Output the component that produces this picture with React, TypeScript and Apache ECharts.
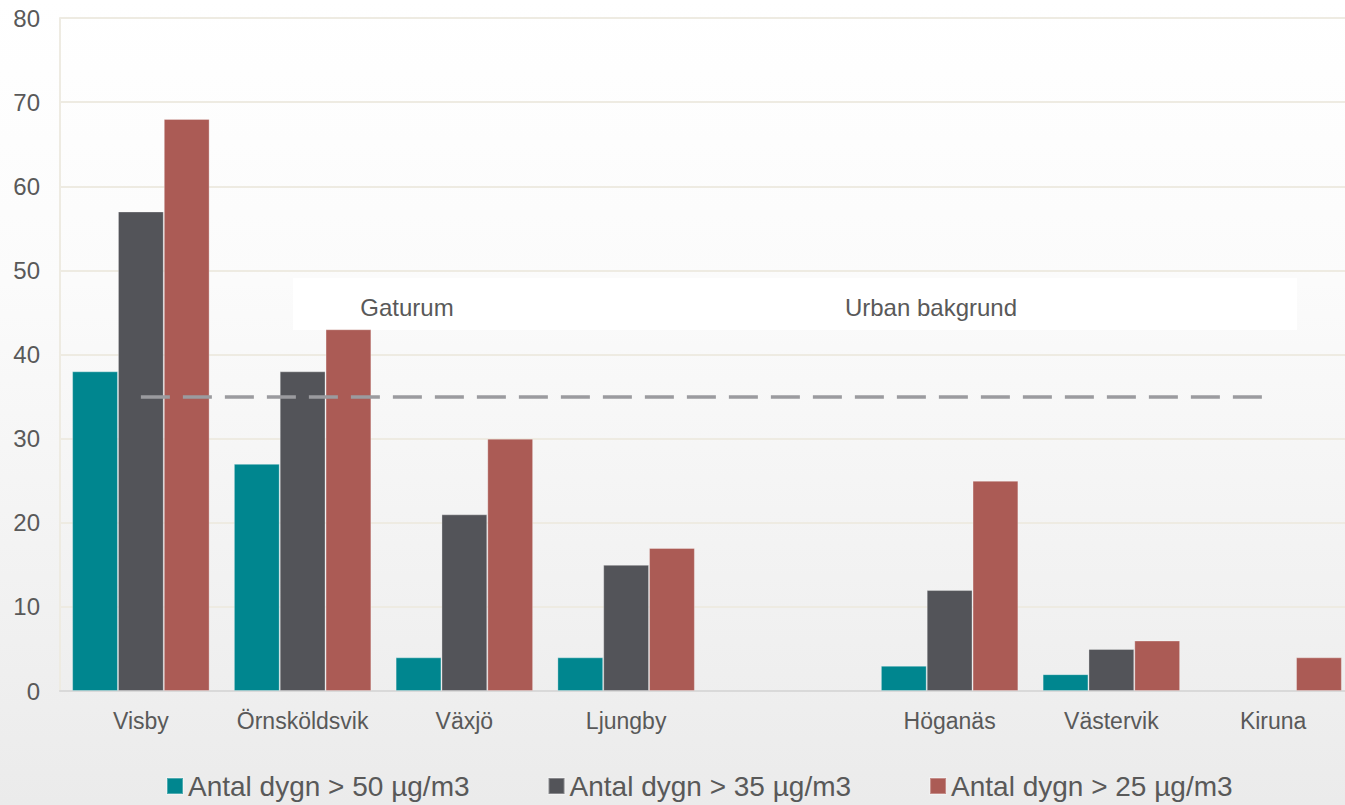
import React, { useEffect, useRef } from "react";
import * as echarts from "echarts";

const categories = ["Visby", "Örnsköldsvik", "Växjö", "Ljungby", "", "Höganäs", "Västervik", "Kiruna"];
const seriesNames = ["Antal dygn > 50 µg/m3", "Antal dygn > 35 µg/m3", "Antal dygn > 25 µg/m3"];
const over50 = [38, 27, 4, 4, null, 3, 2, null];
const over35 = [57, 38, 21, 15, null, 12, 5, null];
const over25 = [68, 43, 30, 17, null, 25, 6, 4];
const limitValue = 35;
const yTicks = { min: 0, max: 80, interval: 10 };
const colors = ["#00868f", "#535459", "#ab5b55"];

export default function App() {
  const ref = useRef<HTMLDivElement>(null);
  useEffect(() => {
    const chart = echarts.init(ref.current!, null, { renderer: "svg" });
    const font = "'Liberation Sans', Arial, sans-serif";
    const values = [over50, over35, over25];
    chart.setOption({
      animation: false,
      backgroundColor: {
        type: "linear", x: 0, y: 0, x2: 0, y2: 1,
        colorStops: [
          { offset: 0, color: "#ffffff" },
          { offset: 0.35, color: "#fbfbfb" },
          { offset: 1, color: "#ebebeb" },
        ],
      },
      textStyle: { fontFamily: font },
      grid: { left: 60, right: 0, top: 18, bottom: 114, containLabel: false },
      legend: {
        top: 767,
        left: 161,
        itemGap: 78,
        itemWidth: 16,
        itemHeight: 16,
        icon: "rect",
        textStyle: { fontSize: 28, color: "#595959", fontFamily: font },
        data: seriesNames,
      },
      graphic: [
        {
          type: "rect",
          z: -1,
          shape: { x: 293, y: 278, width: 1004, height: 52 },
          style: { fill: "#ffffff" },
        },
        {
          type: "text",
          z: 10,
          style: { text: "Gaturum", x: 407, y: 307, fontSize: 24, fill: "#595959", fontFamily: font, align: "center", verticalAlign: "middle" },
        },
        {
          type: "text",
          z: 10,
          style: { text: "Urban bakgrund", x: 931, y: 307, fontSize: 24, fill: "#595959", fontFamily: font, align: "center", verticalAlign: "middle" },
        },
      ],
      xAxis: {
        type: "category",
        data: categories,
        axisTick: { show: false },
        axisLine: { show: true, lineStyle: { color: "#d9d9d9", width: 2 } },
        axisLabel: { fontSize: 23, color: "#595959", margin: 18, fontFamily: font, interval: 0 },
        splitLine: { show: false },
      },
      yAxis: {
        type: "value",
        min: yTicks.min,
        max: yTicks.max,
        interval: yTicks.interval,
        axisLine: { show: true, lineStyle: { color: "#eeebe2", width: 2 } },
        axisTick: { show: false },
        axisLabel: { fontSize: 24, color: "#595959", margin: 20, fontFamily: font },
        splitLine: { lineStyle: { color: "#eeebe2", width: 2 } },
      },
      series: seriesNames.map((name, i) => ({
        name,
        type: "bar",
        data: values[i],
        barGap: "0%",
        barCategoryGap: "15%",
        itemStyle: { color: colors[i], borderColor: "rgba(255,255,255,0.3)", borderWidth: 1 },
        markLine:
          i === 1
            ? {
                silent: true,
                symbol: "none",
                label: { show: false },
                lineStyle: { color: "#9b9b9f", width: 3.5, type: [29, 13] },
                data: [[{ coord: [categories[0], limitValue] }, { coord: [categories[7], limitValue] }]],
              }
            : undefined,
      })),
    });
    return () => chart.dispose();
  }, []);
  return (
    <div style={{ position: "absolute", left: 0, top: 0, width: 1345, height: 805, overflow: "hidden" }}>
      <div ref={ref} style={{ position: "absolute", left: 0, top: 0, width: 1354, height: 805 }} />
    </div>
  );
}
